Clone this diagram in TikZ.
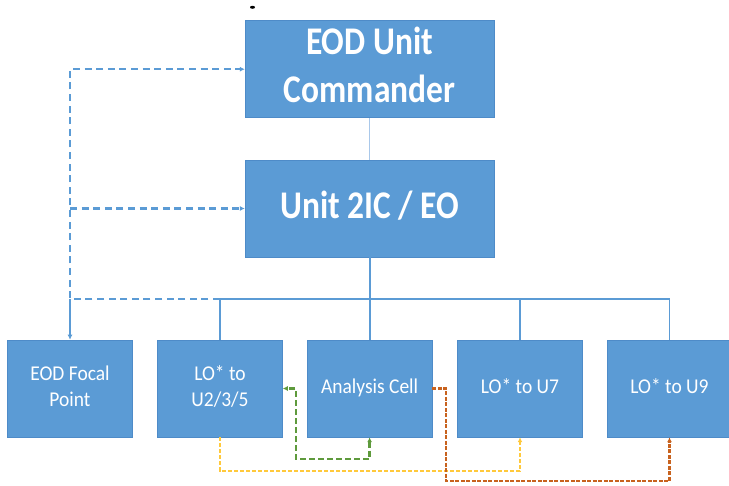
\documentclass[tikz,border=0pt]{standalone}
\usepackage{fontspec}
\setmainfont{Carlito}
\usetikzlibrary{arrows.meta}
\definecolor{boxblue}{HTML}{5B9BD5}
\definecolor{boxedge}{HTML}{4E8BC8}
\definecolor{lineblue}{HTML}{5B9BD5}
\definecolor{paleblue}{HTML}{A9C8EA}
\definecolor{grn}{HTML}{5E9A3C}
\definecolor{yel}{HTML}{FFC93C}
\definecolor{org}{HTML}{C8621E}
\newcommand\stretchtxt[2]{\scalebox{1}[#1]{\begin{tabular}{@{}c@{}}#2\end{tabular}}}
\tikzset{
  box/.style={draw=boxedge, line width=0.5pt, fill=boxblue, text=white, inner sep=0pt, align=center},
  bigbox/.style={box, minimum width=249pt, minimum height=97pt, font=\bfseries\fontsize{33.5}{41}\selectfont},
  smallbox/.style={box, minimum width=125pt, minimum height=97pt, font=\fontsize{19.5}{24}\selectfont},
  conn/.style={draw=lineblue, line width=1.8pt},
  dconn/.style={draw=lineblue, line width=2.2pt, dash pattern=on 7pt off 4.6pt},
  tip/.style={-{Latex[length=5pt,width=5pt]}},
  yline/.style={draw=yel, line width=1.5pt, dash pattern=on 4pt off 2pt},
  gline/.style={draw=grn, line width=2.4pt, dash pattern=on 6pt off 3pt},
  oline/.style={draw=org, line width=2.4pt, dash pattern=on 4pt off 1.5pt},
}
\begin{document}
\begin{tikzpicture}[x=1pt,y=-1pt]
\useasboundingbox (0,0) rectangle (729,486);
\fill[black] (252.5,7.3) ellipse (2.5 and 1.5);
\node[bigbox] (cmd) at (369.6,69.2) {\stretchtxt{1.17}{EOD Unit\\Commander}};
\node[bigbox] (ic) at (369.6,208.5) {\stretchtxt{1.17}{Unit 2IC / EO}};
\node[smallbox] (focal) at (70,388.5) {\stretchtxt{1.08}{EOD Focal\\Point}};
\node[smallbox] (lo) at (220,388.5) {\stretchtxt{1.08}{LO* to\\U2/3/5}};
\node[smallbox] (ac) at (369.6,388.5) {\stretchtxt{1.08}{Analysis Cell}};
\node[smallbox] (u7) at (520,388.5) {\stretchtxt{1.08}{LO* to U7}};
\node[smallbox] (u9) at (669.5,388.5) {\stretchtxt{1.08}{LO* to U9}};
\coordinate (bus) at (220,299);
\coordinate (g1) at (296,459);
\coordinate (y1) at (0,471);
\coordinate (o1) at (446,481);
% solid structure
\draw[draw=paleblue, line width=0.9pt] (cmd.south) -- (ic.north);
\draw[conn] (ic.south) -- (ic.south |- bus);
\draw[conn] (lo.north) -- (lo.north |- bus) -- (u9.north |- bus) -- (u9.north);
\draw[conn] (ac.north) -- (ac.north |- bus);
\draw[conn] (u7.north) -- (u7.north |- bus);
\draw[conn,tip] (focal.north |- bus) -- (focal.north);
% dashed blue
\draw[dconn,tip] (bus) -- (focal.north |- bus) |- (cmd.west);
\draw[dconn,tip] (focal.north |- ic.west) -- (ic.west);
% coloured dashed links
\draw[yline,tip] (lo.south) -- (lo.south |- y1) -| (u7.south);
\draw[gline,{Latex[length=5pt,width=5pt]}-{Latex[length=5pt,width=5pt]}] (ac.south) -- (ac.south |- g1) -- (g1) |- (lo.east);
\draw[oline,tip] (ac.east) -- (ac.east -| o1) -- (o1) -| (u9.south);
\end{tikzpicture}
\end{document}
